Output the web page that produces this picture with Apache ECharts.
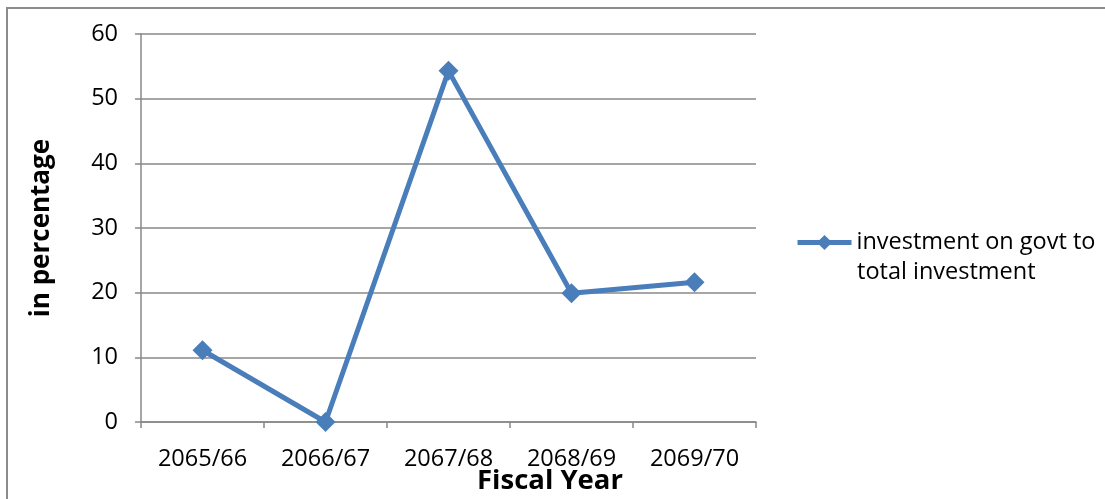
<!DOCTYPE html>
<html>
<head>
<meta charset="utf-8">
<script src="https://cdn.jsdelivr.net/npm/echarts@6/dist/echarts.min.js"></script>
<style>
  html, body { margin: 0; padding: 0; background: #ffffff; }
  #chart { width: 1105px; height: 499px; }
</style>
</head>
<body>
<div id="chart"></div>
<script>
// Fiscal years on the category axis
const fiscalYears = ['2065/66', '2066/67', '2067/68', '2068/69', '2069/70'];
// Share of government investment in total investment (%)
const govtInvestmentShare = [11.1, 0, 54.3, 19.9, 21.6];
// Value-axis range
const yMin = 0, yMax = 60, yStep = 10;
// Series name, shown on two lines beside the legend symbol
const seriesNameLines = ['investment on govt to', 'total investment'];
const seriesName = seriesNameLines.join(' ');

const gridColor = '#888888';
const lineColor = '#4a7ebb';
const fontFamily = '"Open Sans", "Noto Sans", sans-serif';
const labelSize = 23.5;

const chart = echarts.init(document.getElementById('chart'), null, { renderer: 'canvas' });
chart.setOption({
  animation: false,
  backgroundColor: '#ffffff',
  grid: { left: 141, right: 349, top: 34, bottom: 77, containLabel: false },
  graphic: [
    {
      type: 'rect',
      shape: { x: 7, y: 8, width: 1110, height: 500 },
      style: { fill: 'none', stroke: '#8c8c8c', lineWidth: 2 }
    },
    {
      type: 'text',
      left: 477, top: 467,
      style: { text: 'Fiscal Year', font: 'bold 27.5px ' + fontFamily, fill: '#000000' }
    },
    {
      // continuation line of the legend entry
      type: 'text',
      x: 857, y: 272,
      style: {
        text: seriesNameLines[1],
        font: labelSize + 'px ' + fontFamily,
        fill: '#000000',
        verticalAlign: 'middle'
      }
    }
  ],
  legend: {
    data: [seriesName],
    left: 795, top: 228,
    padding: 0,
    orient: 'vertical',
    itemWidth: 54, itemHeight: 19,
    itemGap: 5,
    lineStyle: { width: 5 },
    formatter: () => seriesNameLines[0],
    textStyle: { fontFamily: fontFamily, fontSize: labelSize, color: '#000000', lineHeight: 29 }
  },
  xAxis: {
    type: 'category',
    data: fiscalYears,
    boundaryGap: true,
    axisLine: { lineStyle: { color: gridColor, width: 1.5 } },
    axisTick: { show: true, length: 6, lineStyle: { color: gridColor, width: 1.5 } },
    axisLabel: { margin: 25, fontFamily: fontFamily, fontSize: labelSize, color: '#000000' },
    splitLine: { show: false }
  },
  yAxis: {
    type: 'value',
    min: yMin, max: yMax, interval: yStep,
    name: 'in percentage',
    nameLocation: 'middle',
    nameRotate: 90,
    nameGap: 86,
    nameTextStyle: { fontFamily: fontFamily, fontSize: 26, fontWeight: 'bold', color: '#000000' },
    axisLine: { show: true, lineStyle: { color: gridColor, width: 1.5 } },
    axisTick: { show: true, length: 6, lineStyle: { color: gridColor, width: 1.5 } },
    axisLabel: { margin: 23, fontFamily: fontFamily, fontSize: labelSize, color: '#000000' },
    splitLine: { show: true, lineStyle: { color: gridColor, width: 1.5 } }
  },
  series: [{
    name: seriesName,
    type: 'line',
    data: govtInvestmentShare,
    symbol: 'diamond',
    symbolSize: 20,
    lineStyle: { color: lineColor, width: 5 },
    itemStyle: { color: lineColor },
    z: 5
  }]
});
</script>
</body>
</html>
